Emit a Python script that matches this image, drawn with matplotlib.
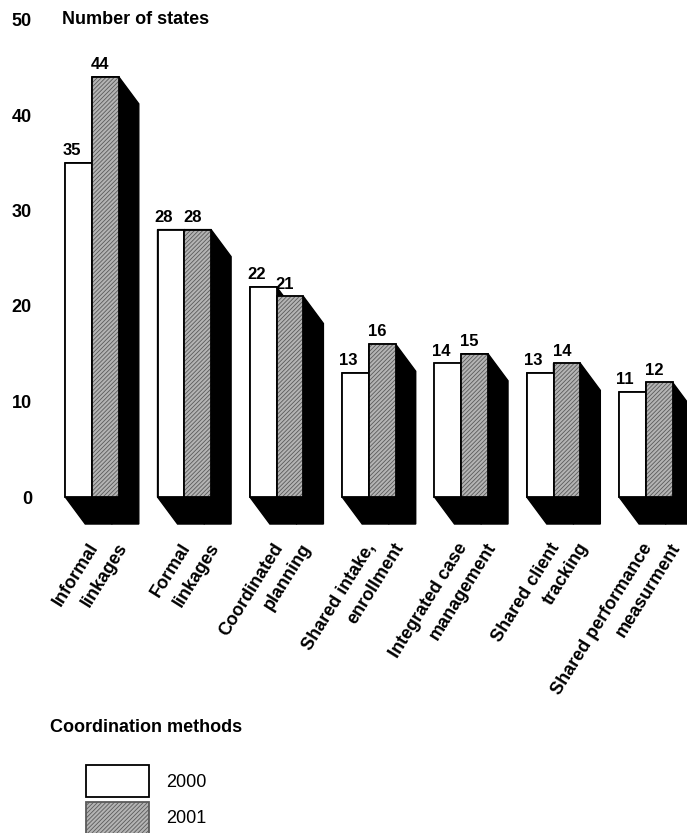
import matplotlib
matplotlib.use("Agg")
import matplotlib.pyplot as plt
from matplotlib.patches import Polygon, Patch
import numpy as np

# Data
categories = [
    "Informal\nlinkages",
    "Formal\nlinkages",
    "Coordinated\nplanning",
    "Shared intake,\nenrollment",
    "Integrated case\nmanagement",
    "Shared client\ntracking",
    "Shared performance\nmeasurment",
]
states_2000 = [35, 28, 22, 13, 14, 13, 11]
states_2001 = [44, 28, 21, 16, 15, 14, 12]
years = ["2000", "2001"]
y_ticks = [0, 10, 20, 30, 40, 50]

plt.rcParams["font.family"] = ["Liberation Sans", "DejaVu Sans"]
plt.rcParams["hatch.linewidth"] = 0.6

W_PX, H_PX = 687, 833
fig = plt.figure(figsize=(W_PX / 100, H_PX / 100), dpi=100)
ax = fig.add_axes([62 / W_PX, (H_PX - 544.75) / H_PX, 625 / W_PX, 525.25 / H_PX])
ax.set_xlim(-0.325, 6.446)
ax.set_ylim(-5, 50)

x = np.arange(len(categories))
w = 0.29          # width of one bar
dx, dy = 0.217, 2.83   # extrusion of the 3-D shadow (right, down)
gray = "#b4b4b4"
hatch_col = "#5a5a5a"
stipple = "////////"


def extrusion(x0, x1, h):
    return [(x0, h), (x1, h), (x1 + dx, h - dy), (x1 + dx, -dy),
            (x0 + dx, -dy), (x0, 0)]


# black 3-D extrusions behind the fronts
for xi, a, b in zip(x, states_2000, states_2001):
    for x0, h in ((xi - w, a), (xi, b)):
        ax.add_patch(Polygon(extrusion(x0, x0 + w, h), closed=True,
                             facecolor="black", edgecolor="black", lw=1,
                             zorder=1, clip_on=False))

# front faces
ax.bar(x - w, states_2000, width=w, align="edge", facecolor="white",
       edgecolor="black", linewidth=1.3, zorder=2)
ax.bar(x, states_2001, width=w, align="edge", facecolor=gray,
       edgecolor=hatch_col, linewidth=0, hatch=stipple, zorder=2)
ax.bar(x, states_2001, width=w, align="edge", facecolor="none",
       edgecolor="black", linewidth=1.3, zorder=3)

# value labels
for xi, a, b in zip(x, states_2000, states_2001):
    ax.text(xi - w - 0.03, a + 0.5, str(a), ha="left", va="bottom",
            fontsize=12, fontweight="bold", zorder=4)
    ax.text(xi - 0.01, b + 0.5, str(b), ha="left", va="bottom",
            fontsize=12, fontweight="bold", zorder=4)

# category labels: each line ends on the same horizontal line,
# the second line shifted to the right
for xi, cat in zip(x, categories):
    for k, line in enumerate(cat.split("\n")):
        ax.text(xi - 0.05 + 0.31 * k, -4.5, line, rotation=58,
                rotation_mode="anchor", ha="right", va="top", fontsize=13,
                fontweight="bold", clip_on=False)

# y axis
ax.set_yticks(y_ticks)
ax.set_yticklabels([str(t) for t in y_ticks], fontsize=13, fontweight="bold")
ax.tick_params(axis="y", length=0, pad=21.6)
ax.set_xticks([])
for s in ax.spines.values():
    s.set_visible(False)
ax.patch.set_visible(False)
ax.text(0, 1, "Number of states", transform=ax.transAxes, ha="left",
        va="center", fontsize=13, fontweight="bold")

# legend
fig.text(50 / W_PX, 1 - 727 / H_PX, "Coordination methods", ha="left",
         va="center", fontsize=13, fontweight="bold")
try:
    h2001 = Patch(facecolor=gray, edgecolor="black", hatch=stipple,
                  hatchcolor=hatch_col, linewidth=1.3)
except Exception:
    h2001 = Patch(facecolor=gray, edgecolor=hatch_col, hatch=stipple,
                  linewidth=1.3)
handles = [Patch(facecolor="white", edgecolor="black", linewidth=1.3), h2001]
fig.legend(handles, years, loc="upper left",
           bbox_to_anchor=(86 / W_PX, 1 - 765 / H_PX), frameon=False,
           borderpad=0, borderaxespad=0, handlelength=3.49, handleheight=2.35,
           handletextpad=0.94, labelspacing=0.27, fontsize=13)

fig.savefig("out.png", dpi=100)
